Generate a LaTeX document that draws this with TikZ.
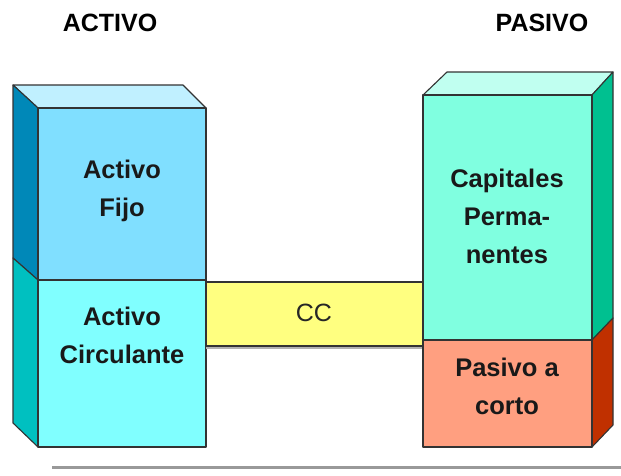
\documentclass[tikz,border=0pt]{standalone}
\usepackage{fontspec}
\setmainfont{Liberation Sans}
\definecolor{fijoF}{HTML}{80DFFF}
\definecolor{fijoT}{HTML}{C0F0FF}
\definecolor{fijoS}{HTML}{0088B8}
\definecolor{circF}{HTML}{80FFFF}
\definecolor{circS}{HTML}{00C0C0}
\definecolor{ccF}{HTML}{FFFF80}
\definecolor{capF}{HTML}{80FFE0}
\definecolor{capT}{HTML}{C0FFF0}
\definecolor{capS}{HTML}{00C090}
\definecolor{pasF}{HTML}{FF9F80}
\definecolor{pasS}{HTML}{C03000}
\definecolor{edge}{HTML}{333333}
\begin{document}
\begin{tikzpicture}[x=1pt,y=-1pt,
  face/.style={draw=edge,line width=1.1pt,line join=round},
  lbl/.style={align=center,font=\bfseries\fontsize{25.5}{38}\selectfont,text=black!90},
  head/.style={font=\bfseries\fontsize{25}{28}\selectfont},
  ]
\useasboundingbox[fill=white] (0,0) rectangle (621,475);
% bottom gray rule
\draw[color=black!40,line width=3pt] (52,467) -- (621,467);
% left block
\filldraw[face,fill=fijoT] (13,85) -- (183,85) -- (206,108) -- (38,108) -- cycle;
\filldraw[face,fill=fijoS] (13,85) -- (38,108) -- (38,280) -- (13,258) -- cycle;
\filldraw[face,fill=circS] (13,258) -- (38,280) -- (38,447) -- (13,423) -- cycle;
\filldraw[face,fill=fijoF] (38,108) rectangle (206,280);
\filldraw[face,fill=circF] (38,280) rectangle (206,447);
% CC band
\fill[black!30] (206,346) rectangle (423,349);
\filldraw[face,fill=ccF] (206,282) rectangle (423,346);
% right block
\filldraw[face,fill=capT] (423,95) -- (447,72) -- (613,72) -- (592,95) -- cycle;
\filldraw[face,fill=capS] (592,95) -- (613,72) -- (613,318) -- (592,340) -- cycle;
\filldraw[face,fill=pasS] (592,340) -- (613,318) -- (613,425) -- (592,447) -- cycle;
\filldraw[face,fill=capF] (423,95) rectangle (592,340);
\filldraw[face,fill=pasF] (423,340) rectangle (592,447);
% labels
\node[lbl] (fijo) at (122,191) {Activo\\Fijo};
\node[lbl] (circ) at (122,335) {Activo\\Circulante};
\node[font=\fontsize{25}{28}\selectfont,text=black!85] (cc) at (314,313) {CC};
\node[lbl] (cap) at (507,216) {Capitales\\Perma-\\nentes};
\node[lbl] (pas) at (507,386) {Pasivo a\\corto};
\node[head] (activo) at (110,23) {ACTIVO};
\node[head] (pasivo) at (542,23) {PASIVO};
\end{tikzpicture}
\end{document}
